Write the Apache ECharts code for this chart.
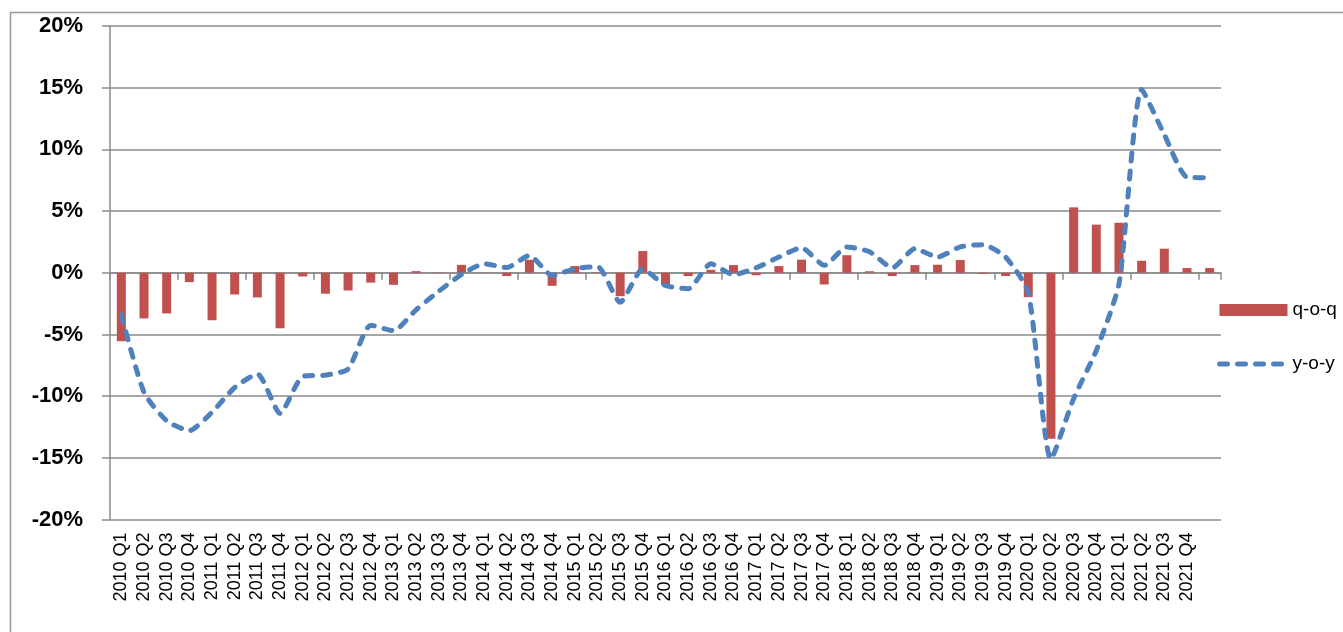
<!DOCTYPE html>
<html>
<head>
<meta charset="utf-8">
<script src="https://cdn.jsdelivr.net/npm/echarts@6/dist/echarts.min.js"></script>
<style>
html,body{margin:0;padding:0;background:#fff;}
#chart{width:1343px;height:632px;}
</style>
</head>
<body>
<div id="chart"></div>
<script>
const categories = [
  "2010 Q1","2010 Q2","2010 Q3","2010 Q4",
  "2011 Q1","2011 Q2","2011 Q3","2011 Q4",
  "2012 Q1","2012 Q2","2012 Q3","2012 Q4",
  "2013 Q1","2013 Q2","2013 Q3","2013 Q4",
  "2014 Q1","2014 Q2","2014 Q3","2014 Q4",
  "2015 Q1","2015 Q2","2015 Q3","2015 Q4",
  "2016 Q1","2016 Q2","2016 Q3","2016 Q4",
  "2017 Q1","2017 Q2","2017 Q3","2017 Q4",
  "2018 Q1","2018 Q2","2018 Q3","2018 Q4",
  "2019 Q1","2019 Q2","2019 Q3","2019 Q4",
  "2020 Q1","2020 Q2","2020 Q3","2020 Q4",
  "2021 Q1","2021 Q2","2021 Q3","2021 Q4",
  ""
];

const qoq = [
  -5.55, -3.7, -3.3, -0.76,
  -3.85, -1.76, -2.0, -4.5,
  -0.3, -1.7, -1.44, -0.8,
  -0.98, 0.13, 0.03, 0.64,
  0.02, -0.27, 1.05, -1.06,
  0.54, 0.05, -1.9, 1.76,
  -0.97, -0.27, 0.24, 0.62,
  -0.2, 0.54, 1.06, -0.95,
  1.42, 0.12, -0.27, 0.62,
  0.65, 1.03, -0.08, -0.27,
  -1.98, -13.45, 5.3, 3.9,
  4.05, 0.97, 1.95, 0.38,
  0.38
];

const yoy = [
  -3.4, -9.7, -12.0, -12.8,
  -11.3, -9.3, -8.2, -11.4,
  -8.4, -8.3, -7.8, -4.25,
  -4.7, -3.0, -1.5, -0.15,
  0.73, 0.42, 1.4, -0.22,
  0.33, 0.5, -2.4, 0.3,
  -1.03, -1.3, 0.73, -0.16,
  0.4, 1.27, 2.03, 0.6,
  2.08, 1.7, 0.4, 1.95,
  1.27, 2.1, 2.28, 1.27,
  -1.6, -15.1, -10.2, -6.3,
  -0.9, 14.85, 11.2, 7.75,
  7.7
];

const yTicks = { min: -20, max: 20, interval: 5 };

const chart = echarts.init(document.getElementById('chart'), null, { renderer: 'canvas' });
const gridColor = '#8a8a8a';
const font = 'Liberation Sans, Arial, sans-serif';
const lineDash = { color: '#4F81BD', width: 5, type: [8, 10], cap: 'round' };

chart.setOption({
  animation: false,
  backgroundColor: '#ffffff',
  textStyle: { fontFamily: font },
  graphic: [{
    type: 'rect',
    left: 8, top: 10,
    shape: { width: 1400, height: 700 },
    style: { fill: 'none', stroke: '#999', lineWidth: 1.5 },
    silent: true, z: -10
  }],
  grid: { left: 110, right: 122, top: 26, bottom: 112.5, containLabel: false },
  legend: {
    orient: 'vertical',
    left: 1217, top: 300.5,
    padding: 0,
    itemWidth: 68, itemHeight: 12, itemGap: 35,
    textStyle: { fontSize: 19, color: '#000', fontFamily: font },
    data: [
      { name: 'q-o-q', icon: 'rect' },
      { name: 'y-o-y', itemStyle: { opacity: 0 }, lineStyle: lineDash }
    ]
  },
  xAxis: [
    {
      type: 'category',
      data: categories,
      position: 'bottom',
      boundaryGap: true,
      axisLine: { show: true, onZero: true, lineStyle: { color: gridColor, width: 1.5 } },
      axisTick: { show: true, length: 7, lineStyle: { color: gridColor, width: 1.5 } },
      axisLabel: { show: false },
      splitLine: { show: false }
    },
    {
      type: 'category',
      data: categories,
      position: 'bottom',
      boundaryGap: true,
      axisLine: { show: false, onZero: false },
      axisTick: { show: false },
      axisLabel: { show: true, rotate: 90, margin: 13, fontSize: 18, color: '#000', fontFamily: font, interval: 0 },
      splitLine: { show: false }
    }
  ],
  yAxis: {
    type: 'value',
    min: yTicks.min, max: yTicks.max, interval: yTicks.interval,
    axisLine: { show: true, lineStyle: { color: gridColor, width: 1.5 } },
    axisTick: { show: true, length: 8, lineStyle: { color: gridColor, width: 1.5 } },
    axisLabel: { formatter: '{value}%', fontSize: 22, fontWeight: 'bold', color: '#000', margin: 27, fontFamily: font },
    splitLine: { show: true, lineStyle: { color: gridColor, width: 1.5 } }
  },
  series: [
    {
      name: 'q-o-q',
      type: 'bar',
      xAxisIndex: 0,
      data: qoq,
      barWidth: 9,
      itemStyle: { color: '#C0504D' },
      z: 2
    },
    {
      name: 'y-o-y',
      type: 'line',
      xAxisIndex: 0,
      data: yoy,
      symbol: 'none',
      smooth: 0.2,
      itemStyle: { color: '#4F81BD' },
      lineStyle: lineDash,
      z: 3
    }
  ]
});
</script>
</body>
</html>
